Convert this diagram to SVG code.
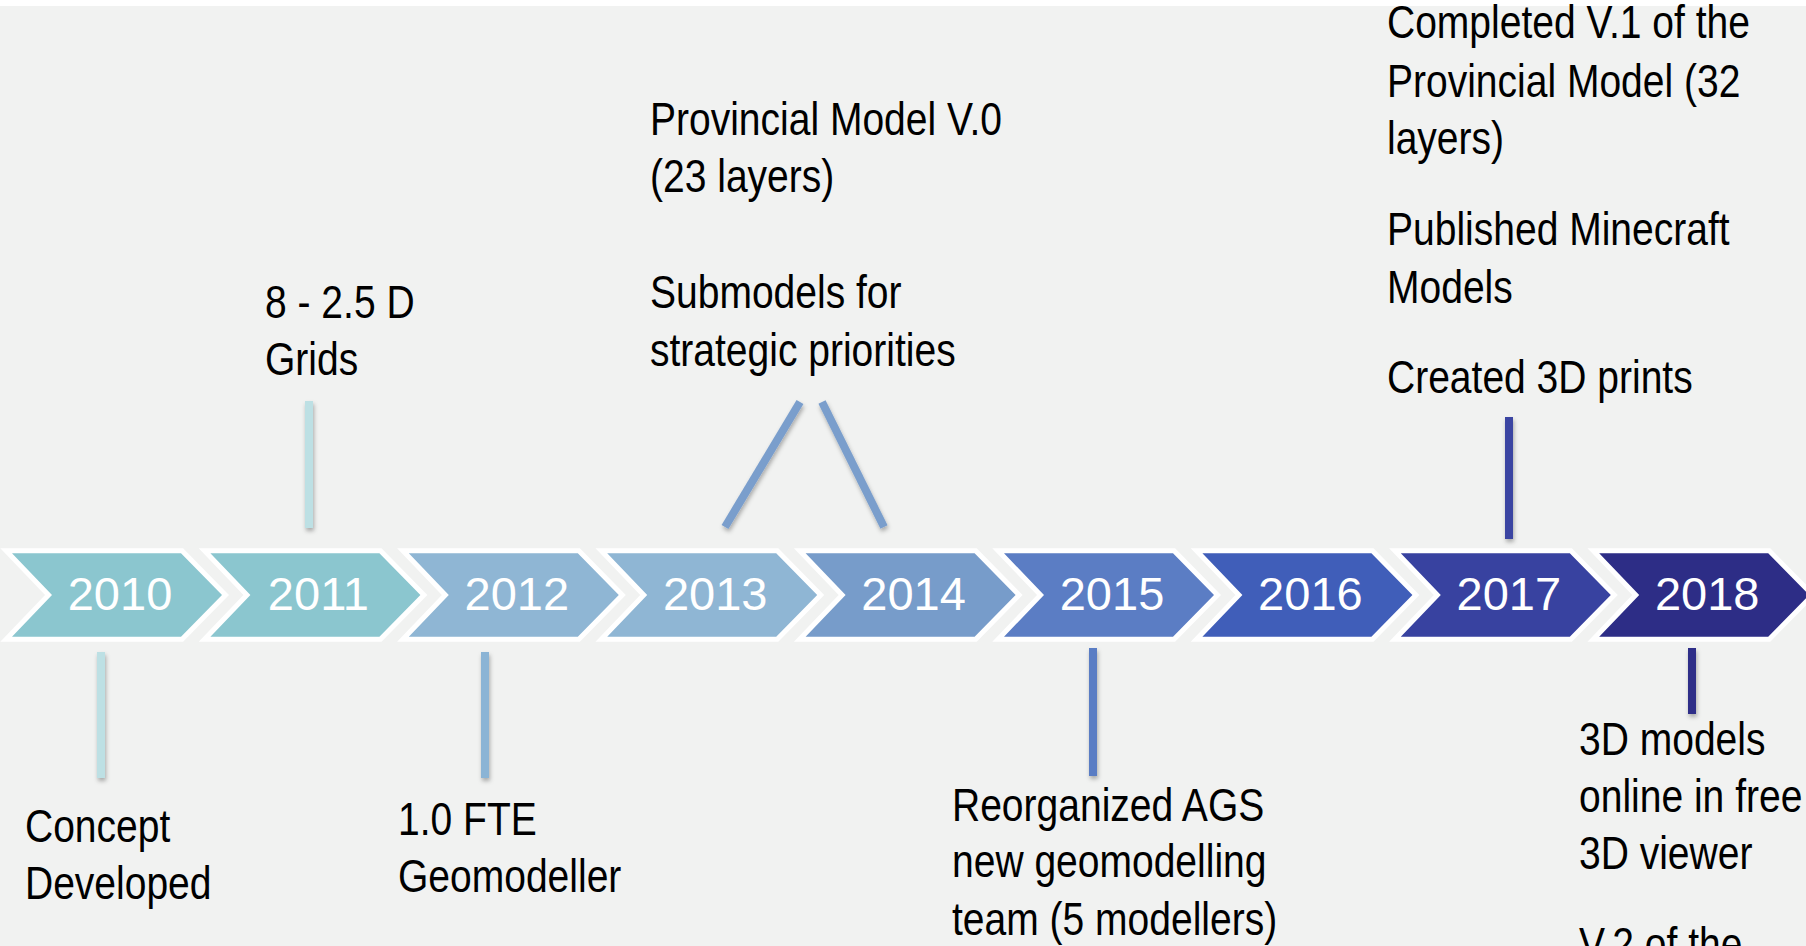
<svg xmlns="http://www.w3.org/2000/svg" width="1806" height="946" viewBox="0 0 1806 946">
<defs>
<style>
.chev{stroke:#ffffff;stroke-width:10;stroke-linejoin:miter;paint-order:stroke}
.yr{font-family:"Liberation Sans",Arial,sans-serif;font-size:47px;fill:#ffffff;text-anchor:middle}
.lbl{font-family:"Liberation Sans",Arial,sans-serif;font-size:47px;fill:#000000}
.con{stroke-width:8;fill:none;stroke-linecap:butt}
</style>
<filter id="sh" x="-50%" y="-20%" width="200%" height="140%">
<feDropShadow dx="1" dy="3" stdDeviation="2" flood-color="#000" flood-opacity="0.3"/>
</filter>
</defs>
<rect x="0" y="0" width="1806" height="946" fill="#f1f2f1"/>
<rect x="0" y="0" width="1806" height="6" fill="#ffffff"/>

<g id="n2010"><polygon class="chev" fill="#8bc6cf" points="12,553.3 181,553.3 222,595 181,636.7 12,636.7 52,595"/><text class="yr" x="120" y="610">2010</text></g>
<g id="n2011"><polygon class="chev" fill="#8bc6cf" points="210.4,553.3 379.4,553.3 420.4,595 379.4,636.7 210.4,636.7 250.4,595"/><text class="yr" x="318.4" y="610">2011</text></g>
<g id="n2012"><polygon class="chev" fill="#8fb6d4" points="408.8,553.3 577.8,553.3 618.8,595 577.8,636.7 408.8,636.7 448.8,595"/><text class="yr" x="516.8" y="610">2012</text></g>
<g id="n2013"><polygon class="chev" fill="#8fb6d4" points="607.2,553.3 776.2,553.3 817.2,595 776.2,636.7 607.2,636.7 647.2,595"/><text class="yr" x="715.2" y="610">2013</text></g>
<g id="n2014"><polygon class="chev" fill="#779cca" points="805.6,553.3 974.6,553.3 1015.6,595 974.6,636.7 805.6,636.7 845.6,595"/><text class="yr" x="913.6" y="610">2014</text></g>
<g id="n2015"><polygon class="chev" fill="#5b7dc4" points="1004,553.3 1173,553.3 1214,595 1173,636.7 1004,636.7 1044,595"/><text class="yr" x="1112" y="610">2015</text></g>
<g id="n2016"><polygon class="chev" fill="#405eb9" points="1202.4,553.3 1371.4,553.3 1412.4,595 1371.4,636.7 1202.4,636.7 1242.4,595"/><text class="yr" x="1310.4" y="610">2016</text></g>
<g id="n2017"><polygon class="chev" fill="#3842a0" points="1400.8,553.3 1569.8,553.3 1610.8,595 1569.8,636.7 1400.8,636.7 1440.8,595"/><text class="yr" x="1508.8" y="610">2017</text></g>
<g id="n2018"><polygon class="chev" fill="#2d2d86" points="1599.2,553.3 1768.2,553.3 1809.2,595 1768.2,636.7 1599.2,636.7 1639.2,595"/><text class="yr" x="1707.2" y="610">2018</text></g>

<g id="connectors" class="con" filter="url(#sh)">
<line x1="101" y1="652" x2="101" y2="778" stroke="#bde0e4"/>
<line x1="309" y1="401" x2="309" y2="528" stroke="#bde0e4"/>
<line x1="485" y1="652" x2="485" y2="778" stroke="#8bb4d5"/>
<line x1="800" y1="402" x2="725" y2="527" stroke="#7a9ecc"/>
<line x1="822" y1="402" x2="884" y2="527" stroke="#7a9ecc"/>
<line x1="1093" y1="648" x2="1093" y2="776" stroke="#5a7dc4"/>
<line x1="1509" y1="417" x2="1509" y2="539" stroke="#3a44a2"/>
<line x1="1692" y1="648" x2="1692" y2="714" stroke="#2e2e88"/>
</g>

<g id="label2010" class="lbl" transform="translate(25,0) scale(0.83,1)"><text x="0" y="842">Concept</text><text x="0" y="899">Developed</text></g>
<g id="label2011" class="lbl" transform="translate(265,0) scale(0.83,1)"><text x="0" y="318">8 - 2.5 D</text><text x="0" y="375">Grids</text></g>
<g id="label2012" class="lbl" transform="translate(398,0) scale(0.83,1)"><text x="0" y="835">1.0 FTE</text><text x="0" y="892">Geomodeller</text></g>
<g id="label2013" class="lbl" transform="translate(650,0) scale(0.83,1)"><text x="0" y="135">Provincial Model V.0</text><text x="0" y="192">(23 layers)</text><text x="0" y="308">Submodels for</text><text x="0" y="366">strategic priorities</text></g>
<g id="label2015" class="lbl" transform="translate(952,0) scale(0.83,1)"><text x="0" y="821">Reorganized AGS</text><text x="0" y="877">new geomodelling</text><text x="0" y="935">team (5 modellers)</text></g>
<g id="label2017" class="lbl" transform="translate(1387,0) scale(0.83,1)"><text x="0" y="38">Completed V.1 of the</text><text x="0" y="97">Provincial Model (32</text><text x="0" y="154">layers)</text><text x="0" y="245">Published Minecraft</text><text x="0" y="303">Models</text><text x="0" y="393">Created 3D prints</text></g>
<g id="label2018" class="lbl" transform="translate(1579,0) scale(0.83,1)"><text x="0" y="755">3D models</text><text x="0" y="812">online in free</text><text x="0" y="869">3D viewer</text><text x="0" y="960">V.2 of the</text></g>
</svg>
